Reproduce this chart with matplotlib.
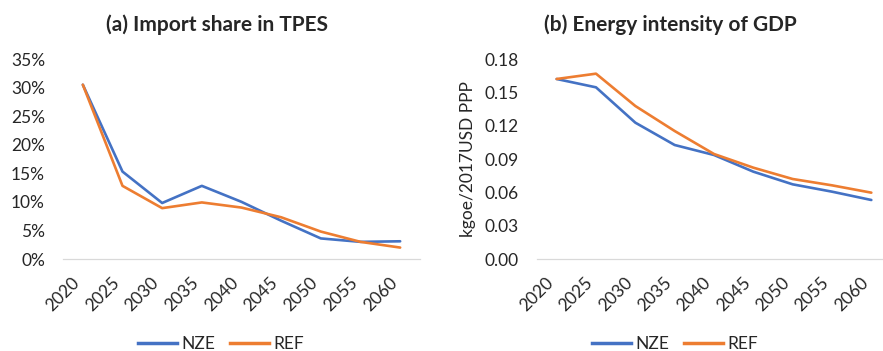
import numpy as np
import matplotlib
matplotlib.use("Agg")
import matplotlib.pyplot as plt
from matplotlib.lines import Line2D
from matplotlib.ticker import FuncFormatter

plt.rcParams['font.family'] = ['Lato', 'DejaVu Sans']

years = ['2020', '2025', '2030', '2035', '2040', '2045', '2050', '2055', '2060']

# (a) import share in TPES, %
import_nze = [30.5, 15.3, 9.8, 12.8, 10.0, 6.7, 3.6, 3.0, 3.1]
import_ref = [30.5, 12.8, 8.9, 9.9, 9.0, 7.3, 4.8, 3.0, 2.0]

# (b) energy intensity, kgoe/2017USD PPP
intens_nze = [0.162, 0.1545, 0.1227, 0.1026, 0.0936, 0.0786, 0.0672, 0.0606, 0.0531]
intens_ref = [0.162, 0.1668, 0.1377, 0.1152, 0.0945, 0.0822, 0.0720, 0.0663, 0.0597]

BLUE = '#4472C4'
ORANGE = '#ED7D31'
TXT = '#262626'

W, H = 883, 351
fig = plt.figure(figsize=(W / 100, H / 100), dpi=100)


def px_axes(x0, x1, ytop, ybot):
    return fig.add_axes([x0 / W, 1 - ybot / H, (x1 - x0) / W, (ybot - ytop) / H])


def style(ax, yticks, fmt):
    x = np.arange(len(years))
    ax.set_xlim(-0.5, len(years) - 0.5)
    ax.set_xticks(x)
    ax.set_xticklabels(years, rotation=45, ha='right', va='top', fontsize=12.5, color=TXT)
    ax.set_yticks(yticks)
    ax.set_ylim(yticks[0], yticks[-1])
    ax.yaxis.set_major_formatter(FuncFormatter(fmt))
    ax.tick_params(axis='both', length=0, labelsize=12.5, colors=TXT)
    ax.tick_params(axis='x', pad=11)
    ax.tick_params(axis='y', pad=13)
    for s in ['top', 'right', 'left']:
        ax.spines[s].set_visible(False)
    ax.spines['bottom'].set_color('#D9D9D9')
    ax.spines['bottom'].set_linewidth(0.9)


ax1 = px_axes(63, 420, 59, 259)
x = np.arange(len(years))
ax1.plot(x, import_nze, color=BLUE, lw=1.9, solid_capstyle='round', clip_on=False)
ax1.plot(x, import_ref, color=ORANGE, lw=1.9, solid_capstyle='round', clip_on=False)
style(ax1, [0, 5, 10, 15, 20, 25, 30, 35], lambda v, p: f'{v:.0f}%')

ax2 = px_axes(537, 891, 59, 259)
ax2.plot(x, intens_nze, color=BLUE, lw=1.9, solid_capstyle='round', clip_on=False)
ax2.plot(x, intens_ref, color=ORANGE, lw=1.9, solid_capstyle='round', clip_on=False)
style(ax2, [0, 0.03, 0.06, 0.09, 0.12, 0.15, 0.18], lambda v, p: f'{v:.2f}')
ax2.set_ylabel('kgoe/2017USD PPP', fontsize=12.5, color=TXT, labelpad=6)

fig.text(217 / W, 1 - 25 / H, '(a) Import share in TPES', ha='center', va='center',
         fontsize=15, fontweight='bold', color=TXT)
fig.text(670 / W, 1 - 25 / H, '(b) Energy intensity of GDP', ha='center', va='center',
         fontsize=15, fontweight='bold', color=TXT)

handles = [Line2D([], [], color=BLUE, lw=2.5), Line2D([], [], color=ORANGE, lw=2.5)]
for cx in (221, 675):
    fig.legend(handles, ['NZE', 'REF'], loc='center', bbox_to_anchor=(cx / W, 1 - 344 / H),
               ncol=2, frameon=False, fontsize=12.5, handlelength=2.2, handletextpad=0.25,
               columnspacing=0.9, labelcolor=TXT)

fig.savefig('out.png', dpi=100)
